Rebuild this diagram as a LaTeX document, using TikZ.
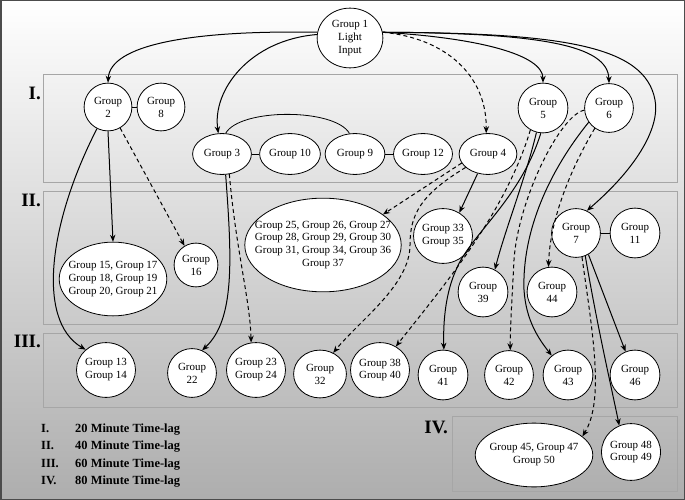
\documentclass[tikz,border=0pt]{standalone}
\usepackage{fontspec}
\setmainfont{Liberation Serif}
\usetikzlibrary{shapes.geometric,arrows.meta}
\begin{document}
\begin{tikzpicture}[x=1bp,y=-1bp,
  grp/.style={draw=black, line width=0.8bp, fill=white, inner sep=0pt, align=center, font=\fontsize{11}{13}\selectfont},
  circ/.style={grp, circle, minimum size=#1},
  ell/.style 2 args={grp, ellipse, minimum width=#1, minimum height=#2},
  txt/.style={inner sep=0pt, align=center, font=\fontsize{11}{13}\selectfont},
  arr/.style={line width=1bp, -{Stealth[length=7bp,width=5.5bp]}},
  darr/.style={arr, dash pattern=on 4bp off 3bp},
  link/.style={line width=0.6bp},
  band/.style={draw=black!35, line width=1bp},
  sect/.style={font=\fontsize{19}{19}\selectfont\bfseries, anchor=east, inner sep=0pt},
  legnum/.style={font=\fontsize{12.5}{13}\selectfont\bfseries, anchor=base west, inner sep=0pt},
]
\useasboundingbox (0,0) rectangle (685,500);
\shade[top color=white, bottom color=black!32] (0,0) rectangle (685,500);
\draw[line width=1.5bp, draw=black!70] (0.75,0.75) rectangle (684.25,499.25);

% bands
\draw[band] (43,75) rectangle (677,183);
\draw[band] (43,192) rectangle (677,324);
\draw[band] (43,333) rectangle (677,407);
\draw[band] (452,416) rectangle (677,491);

\node[sect] (s1) at (41,93) {I.};
\node[sect] (s2) at (41,200) {II.};
\node[sect] (s3) at (41,341) {III.};
\node[sect] (s4) at (448,427) {IV.};

% legend
\node[legnum] (l1) at (41,432) {I.};
\node[legnum] (l2) at (41,449) {II.};
\node[legnum] (l3) at (41,467) {III.};
\node[legnum] (l4) at (41,484) {IV.};
\node[legnum] (t1) at (75,432) {20 Minute Time-lag};
\node[legnum] (t2) at (75,449) {40 Minute Time-lag};
\node[legnum] (t3) at (75,467) {60 Minute Time-lag};
\node[legnum] (t4) at (75,484) {80 Minute Time-lag};

% nodes
\node[ell={66}{60}] (g1) at (350,38) {Group 1\\Light\\Input};
\node[circ=48] (g2) at (108,107) {Group\\2};
\node[circ=48] (g8) at (161,107) {Group\\8};
\node[ell={59}{41}] (g3) at (222,154) {Group 3};
\node[ell={61}{41}] (g10) at (290,154) {Group 10};
\node[ell={60}{41}] (g9) at (355,154) {Group 9};
\node[ell={59}{41}] (g12) at (423,154) {Group 12};
\node[ell={58}{41}] (g4) at (488,154) {Group 4};
\node[circ=50] (g5) at (543,108) {Group\\5};
\node[circ=49] (g6) at (609,108) {Group\\6};

\node[ell={108}{74}, label={[txt]center:{Group 15, Group 17\\Group 18, Group 19\\Group 20, Group 21}}] (g15) at (113,279) {};
\node[circ=44] (g16) at (196,265) {Group\\16};
\node[ell={157}{94}, label={[txt]center:{Group 25, Group 26, Group 27\\Group 28, Group 29, Group 30\\Group 31, Group 34, Group 36\\Group 37}}] (g25) at (323,245) {};
\node[ell={50}{55}] (g33) at (443,236) {Group 33\\Group 35};
\node[circ=49] (g7) at (576,233) {Group\\7};
\node[circ=50] (g11) at (635,233) {Group\\11};
\node[circ=50] (g39) at (483,292) {Group\\39};
\node[circ=50] (g44) at (552,292) {Group\\44};

\node[ell={58}{55}] (g13) at (106,370) {Group 13\\Group 14};
\node[circ=49] (g22) at (192,373) {Group\\22};
\node[ell={58}{55}] (g23) at (256,370) {Group 23\\Group 24};
\node[ell={53}{48}] (g32) at (320,374) {Group\\32};
\node[ell={57}{55}] (g38) at (380,370) {Group 38\\Group 40};
\node[circ=50] (g41) at (443,375) {Group\\41};
\node[circ=49] (g42) at (509,375) {Group\\42};
\node[circ=50] (g43) at (568,375) {Group\\43};
\node[circ=50] (g46) at (635,375) {Group\\46};

\node[ell={118}{64}, label={[txt]center:{Group 45, Group 47\\Group 50}}] (g45) at (534,455) {};
\node[ell={57}{57}] (g48) at (631,452) {Group 48\\Group 49};

% plain links
\draw[link] (g2) -- (g8);
\draw[link] (g3) -- (g10);
\draw[link] (g9) -- (g12);
\draw[link] (g7) -- (g11);
\draw[line width=0.8bp] (g3.80) .. controls (240,108) and (335,108) .. (g9.105);

% from group 1
\draw[arr] (g1.170) .. controls (190,30) and (110,45) .. (g2.north);
\draw[arr] (g1.174) .. controls (250,40) and (212,90) .. (g3.100);
\draw[darr] (g1.10) .. controls (445,38) and (487,75) .. (g4.95);
\draw[arr] (g1.10) .. controls (480,38) and (543,55) .. (g5.north);
\draw[arr] (g1.10) .. controls (540,33) and (608,45) .. (g6.north);
\draw[arr] (g1.10) .. controls (560,33) and (645,45) .. (655,100) .. controls (660,125) and (640,165) .. (g7.64);

% from group 2
\draw[arr] (g2.243) .. controls (50,220) and (35,320) .. (g13.135);
\draw[arr] (g2.south) -- (g15.north);
\draw[darr] (g2.-60) -- (g16.121);

% from group 3
\draw[arr] (g3.-80) .. controls (232,260) and (235,320) .. (g22.66);
\draw[darr] (g3.-70) .. controls (236,250) and (250,300) .. (g23.100);

% from group 4
\draw[darr] (g4.199) -- (g25.27);
\draw[darr] (g4.211) .. controls (420,195) and (410,215) .. (410,245) .. controls (410,285) and (360,320) .. (g32.58);
\draw[arr] (g4.242) -- (g33.55);

% from group 5
\draw[darr] (g5.240) .. controls (505,215) and (440,290) .. (g38.56);
\draw[arr] (g5.255) .. controls (525,180) and (505,230) .. (g39.62);
\draw[arr] (g5.265) .. controls (520,200) and (470,235) .. (456,270) .. controls (446,292) and (443,320) .. (g41.88);

% from group 6
\draw[darr] (g6.185) .. controls (560,115) and (518,200) .. (514,260) .. controls (512,300) and (510,330) .. (g42.87);
\draw[arr] (g6.215) .. controls (550,170) and (522,230) .. (524,290) .. controls (526,320) and (538,338) .. (g43.130);
\draw[darr] (g6.235) .. controls (570,170) and (550,220) .. (g44.98);

% from group 7
\draw[arr] (g7.-60) -- (g46.112);
\draw[darr] (g7.-76) .. controls (592,330) and (605,400) .. (g45.21);
\draw[arr] (g7.-68) .. controls (598,330) and (612,390) .. (g48.114);
\end{tikzpicture}
\end{document}
